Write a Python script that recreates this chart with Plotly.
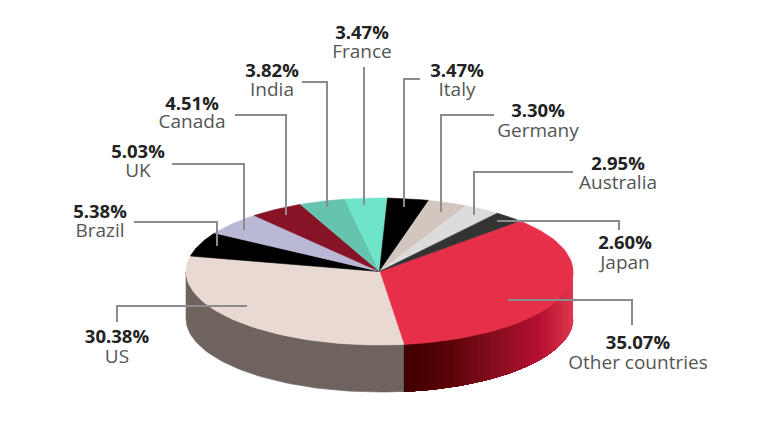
import numpy as np
import plotly.graph_objects as go

# shares clockwise, beginning where the red slice starts
countries = ["Other countries", "US", "Brazil", "UK", "Canada", "India",
             "France", "Italy", "Germany", "Australia", "Japan"]
shares = [35.07, 30.38, 5.38, 5.03, 4.51, 3.82, 3.47, 3.47, 3.30, 2.95, 2.60]
colors = ["#e6304a", "#e8dad2", "#000000", "#b9b9d6", "#861426", "#65c3ae",
          "#6ee5c8", "#000000", "#d2c6bf", "#dcdcdc", "#333333"]

# label centres, pixels: (x, y of percentage, y of name)
label_pos = [(638, 344, 364), (117, 338, 358), (100, 213, 232), (138, 153, 172),
             (192, 105, 123), (272, 72, 91), (362, 34, 53), (457, 72, 91),
             (538, 112, 132), (618, 165, 184), (625, 244, 264)]

# leader lines, pixels
leaders = [
    ([508, 632, 632], [300, 300, 325]),
    ([247, 117, 117], [306, 306, 322]),
    ([134, 217, 217], [222, 222, 246]),
    ([172, 244, 244], [164, 164, 230]),
    ([235, 286, 286], [115, 115, 215]),
    ([302, 327, 327], [82, 82, 207]),
    ([364, 364], [67, 205]),
    ([420, 404, 404], [79, 79, 207]),
    ([494, 441, 441], [115, 115, 212]),
    ([573, 474, 474], [172, 172, 215]),
    ([497, 619, 619], [221, 221, 230]),
]

# pie geometry
cx, cy = 379.5, 271.5
rx, ry = 193.5, 73.5
depth = 47
start_angle = 46.5

# gradient of the red wall, by screen x
grad_x = [403, 450, 500, 540, 560, 573]
grad_r = [62, 90, 138, 182, 205, 225]
grad_g = [0, 4, 15, 15, 40, 55]
grad_b = [0, 8, 32, 48, 65, 80]


def arc(a0, a1, n=60):
    t = np.radians(np.linspace(a0, a1, n))
    return cx + rx * np.sin(t), cy - ry * np.cos(t)


def add_poly(fig, xs, ys, color):
    fig.add_trace(go.Scatter(x=xs, y=ys, mode="lines", fill="toself", fillcolor=color,
                             line=dict(color=color, width=0.6), hoverinfo="skip"))


def add_wall(fig, a0, a1, color, n=60):
    x, y = arc(a0, a1, n)
    add_poly(fig, np.r_[x, x[::-1]], np.r_[y, (y + depth)[::-1]], color)


fig = go.Figure()

angles = start_angle + np.r_[0, np.cumsum(shares)] * 360 / sum(shares)

# side walls first, only the front half shows
# each red strip runs on to the end of the wall, so no seams show between them
n_strips = 70
for a0 in np.linspace(90, angles[1], n_strips, endpoint=False):
    mid = cx + rx * np.sin(np.radians(a0))
    rgb = [int(np.interp(mid, grad_x, c)) for c in (grad_r, grad_g, grad_b)]
    add_wall(fig, a0, angles[1], f"rgb({rgb[0]},{rgb[1]},{rgb[2]})")
add_wall(fig, angles[1], 270, "#6e635e")

# top face
for a0, a1, color in zip(angles[:-1], angles[1:], colors):
    x, y = arc(a0, a1)
    add_poly(fig, np.r_[cx, x, cx], np.r_[cy, y, cy], color)

for xs, ys in leaders:
    fig.add_trace(go.Scatter(x=xs, y=ys, mode="lines", hoverinfo="skip",
                             line=dict(color="#8c8c8c", width=2)))

fig.add_trace(go.Scatter(
    x=[p[0] for p in label_pos], y=[p[1] for p in label_pos], mode="text",
    text=[f"{s:.2f}%" for s in shares], textposition="middle center",
    textfont=dict(family="Open Sans", size=18.5, color="#222222", weight="bold"),
    hoverinfo="skip"))
fig.add_trace(go.Scatter(
    x=[p[0] for p in label_pos], y=[p[2] for p in label_pos], mode="text",
    text=countries, textposition="middle center",
    textfont=dict(family="Open Sans", size=19, color="#555555"),
    hoverinfo="skip"))

fig.update_layout(
    width=758, height=426, showlegend=False,
    margin=dict(l=0, r=0, t=0, b=0),
    paper_bgcolor="white", plot_bgcolor="white",
    xaxis=dict(range=[0, 758], visible=False),
    yaxis=dict(range=[426, 0], visible=False),
)

fig.write_html("out.html", config=dict(displayModeBar=False),
               post_script="document.body.style.margin = '0';")
